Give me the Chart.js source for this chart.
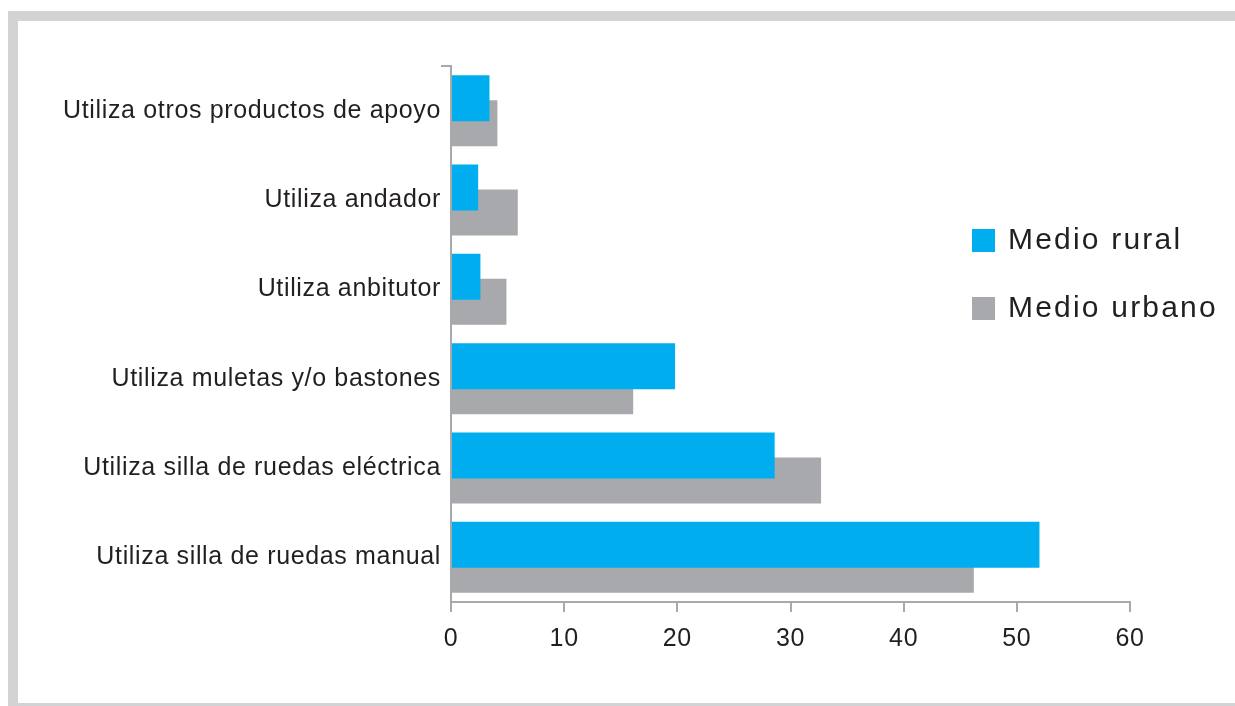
<!DOCTYPE html>
<html lang="es">
<head>
<meta charset="utf-8">
<title>Productos de apoyo - medio rural y urbano</title>
<script src="https://cdn.jsdelivr.net/npm/chart.js@4.4.1/dist/chart.umd.min.js"></script>
<style>
    html, body { margin: 0; padding: 0; background: #fff; }
    body { width: 1235px; height: 706px; position: relative; overflow: hidden; }
    /* marco gris alrededor del gráfico */
    .marco-izq { position: absolute; left: 8px; top: 11px; width: 10px; height: 695px; background: #d1d3d4; }
    .marco-sup { position: absolute; left: 8px; top: 11px; width: 1227px; height: 10px; background: #d1d3d4; }
    .marco-inf { position: absolute; left: 18px; top: 703px; width: 1217px; height: 3px; background: #d1d3d4; }
    #grafico { position: absolute; left: 0; top: 0; }
</style>
</head>
<body>
<div class="marco-izq"></div>
<div class="marco-sup"></div>
<div class="marco-inf"></div>
<canvas id="grafico" width="1235" height="706"></canvas>

<script>
// Datos del gráfico
const categorias = [
    'Utiliza otros productos de apoyo',
    'Utiliza andador',
    'Utiliza anbitutor',
    'Utiliza muletas y/o bastones',
    'Utiliza silla de ruedas eléctrica',
    'Utiliza silla de ruedas manual'
];
const medioRural = [3.4, 2.4, 2.6, 19.8, 28.6, 52.0];
const medioUrbano = [4.1, 5.9, 4.9, 16.1, 32.7, 46.2];
const ticksX = [0, 10, 20, 30, 40, 50, 60];

const AZUL = '#00aeef';
const GRIS = '#a7a9ac';
const TEXTO = '#231f20';
const FUENTE = '"Liberation Sans", Arial, sans-serif';

// Espaciado de letras para todo el texto del gráfico
const espaciado = {
    id: 'espaciado',
    beforeDraw(chart) {
        chart.ctx.letterSpacing = '0.65px';
    }
};

// Leyenda a la derecha, dibujada sobre el área del gráfico
const leyendaDerecha = {
    id: 'leyendaDerecha',
    afterDraw(chart) {
        const ctx = chart.ctx;
        ctx.save();
        ctx.font = '30px ' + FUENTE;
        ctx.letterSpacing = '2.2px';
        ctx.textBaseline = 'middle';
        ctx.textAlign = 'left';
        chart.data.datasets.forEach((ds, i) => {
            const y = 240 + i * 68;
            ctx.fillStyle = ds.backgroundColor;
            ctx.fillRect(972, y - 11, 23, 23);
            ctx.fillStyle = TEXTO;
            ctx.fillText(ds.label, 1008, y + 1);
        });
        ctx.restore();
    }
};

document.addEventListener('DOMContentLoaded', function() {
    const ctx = document.getElementById('grafico');

    new Chart(ctx, {
        type: 'bar',
        data: {
            labels: categorias,
            datasets: [
                {
                    label: 'Medio rural',
                    data: medioRural,
                    backgroundColor: AZUL,
                    categoryPercentage: 0.56,
                    barPercentage: 1.84
                },
                {
                    label: 'Medio urbano',
                    data: medioUrbano,
                    backgroundColor: GRIS,
                    categoryPercentage: 0.56,
                    barPercentage: 1.84
                }
            ]
        },
        options: {
            indexAxis: 'y',
            responsive: false,
            animation: false,
            layout: {
                padding: { top: 66, right: 105, bottom: 0, left: 0 }
            },
            plugins: {
                legend: { display: false },
                tooltip: { enabled: false }
            },
            scales: {
                x: {
                    min: ticksX[0],
                    max: ticksX[ticksX.length - 1],
                    afterFit: function(scale) { scale.height = 104; },
                    border: { display: true, color: GRIS, width: 2 },
                    grid: {
                        drawOnChartArea: false,
                        drawTicks: true,
                        tickLength: 10,
                        color: GRIS,
                        tickColor: GRIS,
                        lineWidth: 2
                    },
                    ticks: {
                        stepSize: ticksX[1] - ticksX[0],
                        color: TEXTO,
                        padding: 12,
                        font: { family: FUENTE, size: 25 }
                    }
                },
                y: {
                    afterFit: function(scale) { scale.width = 451; },
                    border: { display: true, color: GRIS, width: 2 },
                    grid: {
                        drawOnChartArea: false,
                        drawTicks: true,
                        tickLength: 10,
                        lineWidth: 2,
                        color: function(c) {
                            return (c.index === 0 || c.index === categorias.length) ? GRIS : 'rgba(0,0,0,0)';
                        },
                        tickColor: function(c) {
                            return (c.index === 0 || c.index === categorias.length) ? GRIS : 'rgba(0,0,0,0)';
                        }
                    },
                    ticks: {
                        color: TEXTO,
                        padding: 0,
                        font: { family: FUENTE, size: 25 }
                    }
                }
            }
        },
        plugins: [espaciado, leyendaDerecha]
    });
});
</script>
</body>
</html>
